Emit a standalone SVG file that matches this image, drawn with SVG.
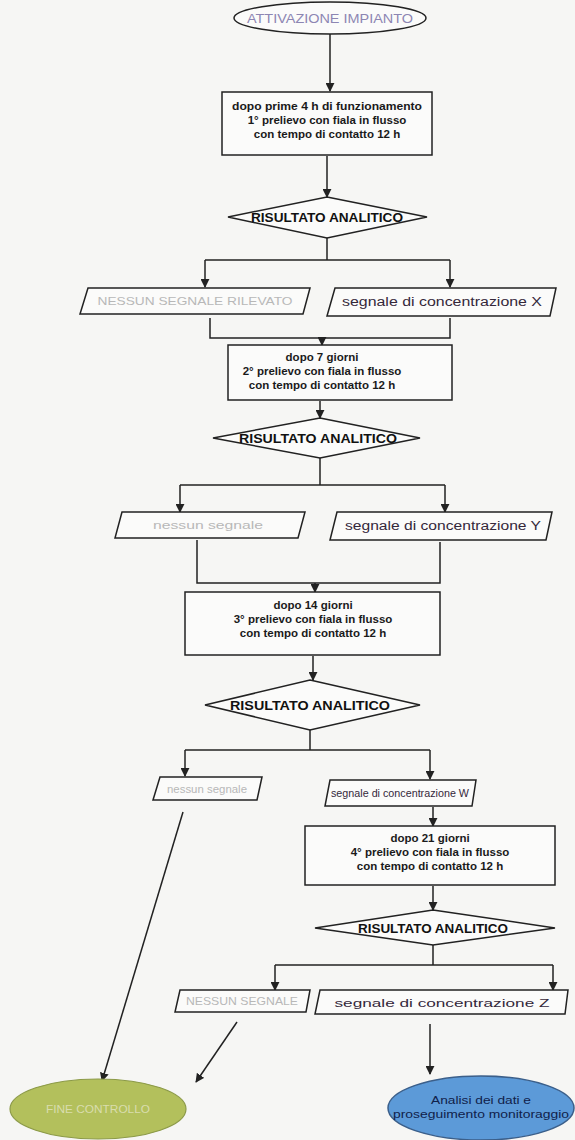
<svg xmlns="http://www.w3.org/2000/svg" width="575" height="1140" viewBox="0 0 575 1140">
<defs>
<marker id="arr" viewBox="0 0 10 10" refX="9" refY="5" markerWidth="6" markerHeight="6" orient="auto-start-reverse">
<path d="M0,0 L10,5 L0,10 z" fill="#222"/>
</marker>
<style>
.bg{fill:#f6f6f4}
.box{fill:#fbfbfa;stroke:#222;stroke-width:1.5}
.dia{fill:#fbfbfa;stroke:#222;stroke-width:1.5}
.par{fill:#fbfbfa;stroke:#222;stroke-width:1.5}
.c{fill:none;stroke:#222;stroke-width:1.5}
.ca{fill:none;stroke:#222;stroke-width:1.5;marker-end:url(#arr)}
.t{font-family:"Liberation Sans",Arial,sans-serif;font-size:11.5px;font-weight:bold;fill:#1a1a1a;text-anchor:middle}
.d{font-family:"Liberation Sans",Arial,sans-serif;font-size:13px;font-weight:bold;fill:#111;text-anchor:middle}
.f{font-family:"Liberation Sans",Arial,sans-serif;font-size:11px;fill:#b8b8b8;text-anchor:middle}
.s{font-family:"Liberation Sans",Arial,sans-serif;font-size:12px;fill:#35283a;text-anchor:middle}
</style>
</defs>
<rect class="bg" x="0" y="0" width="575" height="1140"/>

<g id="connectors">
<line class="ca" x1="330" y1="34" x2="330" y2="91"/>
<line class="ca" x1="327" y1="156" x2="327" y2="197"/>
<polyline class="c" points="327,238 327,260"/>
<polyline class="c" points="205,260 450,260"/>
<line class="ca" x1="205" y1="260" x2="205" y2="287"/>
<line class="ca" x1="450" y1="260" x2="450" y2="287"/>
<polyline class="c" points="210,318 210,338 450,338 450,318"/>
<line class="ca" x1="322" y1="338" x2="322" y2="345"/>
<line class="ca" x1="320" y1="401" x2="320" y2="418"/>
<line class="c" x1="320" y1="458" x2="320" y2="485"/>
<line class="c" x1="180" y1="485" x2="445" y2="485"/>
<line class="ca" x1="180" y1="485" x2="180" y2="512"/>
<line class="ca" x1="445" y1="485" x2="445" y2="512"/>
<polyline class="c" points="197,540 197,583 440,583 440,542"/>
<line class="ca" x1="315" y1="583" x2="315" y2="592"/>
<line class="ca" x1="313" y1="656" x2="313" y2="680"/>
<line class="c" x1="310" y1="730" x2="310" y2="750"/>
<line class="c" x1="185" y1="750" x2="430" y2="750"/>
<line class="ca" x1="185" y1="750" x2="185" y2="776"/>
<line class="ca" x1="430" y1="750" x2="430" y2="779"/>
<line class="ca" x1="183" y1="812" x2="102" y2="1081"/>
<line class="ca" x1="433" y1="807" x2="433" y2="826"/>
<line class="ca" x1="433" y1="886" x2="433" y2="910"/>
<line class="c" x1="433" y1="945" x2="433" y2="965"/>
<line class="c" x1="275" y1="965" x2="553" y2="965"/>
<line class="ca" x1="275" y1="965" x2="275" y2="990"/>
<line class="ca" x1="553" y1="965" x2="553" y2="990"/>
<line class="ca" x1="237" y1="1022" x2="196" y2="1082"/>
<line class="ca" x1="430" y1="1024" x2="430" y2="1074"/>
</g>

<g id="start">
<ellipse cx="330" cy="18" rx="96" ry="16" fill="#fbfbfa" stroke="#222" stroke-width="1.5"/>
<text class="f" x="330" y="23" style="fill:#8d86b3;font-size:12px" textLength="166" lengthAdjust="spacingAndGlyphs">ATTIVAZIONE IMPIANTO</text>
</g>

<g id="box1">
<rect class="box" x="222" y="92" width="210" height="63"/>
<text class="t" x="327" y="110" textLength="190" lengthAdjust="spacingAndGlyphs">dopo prime 4 h di funzionamento</text>
<text class="t" x="327" y="124">1° prelievo con fiala in flusso</text>
<text class="t" x="327" y="138">con tempo di contatto 12 h</text>
</g>

<g id="dec1">
<polygon class="dia" points="327,197 427,217 327,238 228,217"/>
<text class="d" x="327" y="222" textLength="152" lengthAdjust="spacingAndGlyphs">RISULTATO ANALITICO</text>
</g>

<g id="no1">
<polygon class="par" points="88,288 310,288 303,314 80,314"/>
<text class="f" x="195" y="305" textLength="195" lengthAdjust="spacingAndGlyphs">NESSUN SEGNALE RILEVATO</text>
</g>
<g id="yes1">
<polygon class="par" points="335,288 556,288 550,316 327,316"/>
<text class="s" x="442" y="306" textLength="200" lengthAdjust="spacingAndGlyphs">segnale di concentrazione X</text>
</g>

<g id="box2">
<rect class="box" x="228" y="345" width="224" height="55"/>
<text class="t" x="322" y="361">dopo 7 giorni</text>
<text class="t" x="322" y="375">2° prelievo con fiala in flusso</text>
<text class="t" x="322" y="389">con tempo di contatto 12 h</text>
</g>

<g id="dec2">
<polygon class="dia" points="320,418 420,438 320,458 213,438"/>
<text class="d" x="318" y="443" textLength="158" lengthAdjust="spacingAndGlyphs">RISULTATO ANALITICO</text>
</g>

<g id="no2">
<polygon class="par" points="122,512 305,512 298,538 115,538"/>
<text class="f" x="208" y="529" textLength="110" lengthAdjust="spacingAndGlyphs">nessun segnale</text>
</g>
<g id="yes2">
<polygon class="par" points="337,512 552,512 546,540 330,540"/>
<text class="s" x="443" y="530" textLength="196" lengthAdjust="spacingAndGlyphs">segnale di concentrazione Y</text>
</g>

<g id="box3">
<rect class="box" x="185" y="592" width="255" height="63"/>
<text class="t" x="313" y="609">dopo 14 giorni</text>
<text class="t" x="313" y="623">3° prelievo con fiala in flusso</text>
<text class="t" x="313" y="637">con tempo di contatto 12 h</text>
</g>

<g id="dec3">
<polygon class="dia" points="310,680 420,705 310,730 205,705"/>
<text class="d" x="310" y="710" textLength="160" lengthAdjust="spacingAndGlyphs">RISULTATO ANALITICO</text>
</g>

<g id="no3">
<polygon class="par" points="160,777 262,777 257,800 153,800"/>
<text class="f" x="207" y="793" style="font-size:10px" textLength="80" lengthAdjust="spacingAndGlyphs">nessun segnale</text>
</g>
<g id="yes3">
<polygon class="par" points="330,780 476,780 472,806 325,806"/>
<text class="s" x="400" y="797" style="font-size:11px" textLength="138" lengthAdjust="spacingAndGlyphs">segnale di concentrazione W</text>
</g>

<g id="box4">
<rect class="box" x="305" y="826" width="250" height="59"/>
<text class="t" x="430" y="842">dopo 21 giorni</text>
<text class="t" x="430" y="856">4° prelievo con fiala in flusso</text>
<text class="t" x="430" y="870">con tempo di contatto 12 h</text>
</g>

<g id="dec4">
<polygon class="dia" points="433,910 555,928 433,945 315,928"/>
<text class="d" x="433" y="933" style="font-size:12px" textLength="150" lengthAdjust="spacingAndGlyphs">RISULTATO ANALITICO</text>
</g>

<g id="no4">
<polygon class="par" points="180,990 310,990 306,1012 175,1012"/>
<text class="f" x="242" y="1005" style="font-size:10.5px" textLength="112" lengthAdjust="spacingAndGlyphs">NESSUN SEGNALE</text>
</g>
<g id="yes4">
<polygon class="par" points="320,990 568,990 565,1014 315,1014"/>
<text class="s" x="442" y="1007" style="font-size:11px" textLength="215" lengthAdjust="spacingAndGlyphs">segnale di concentrazione Z</text>
</g>

<g id="end">
<ellipse cx="98" cy="1109" rx="88" ry="30" fill="#b3c05c" stroke="#8c9a48" stroke-width="1.2"/>
<text class="f" x="98" y="1113" style="fill:#d9ddae;font-size:11px" textLength="104" lengthAdjust="spacingAndGlyphs">FINE CONTROLLO</text>
</g>

<g id="analysis">
<ellipse cx="481" cy="1108" rx="93" ry="32" fill="#5c9ad8" stroke="#3b5f8a" stroke-width="1.5"/>
<text class="t" x="481" y="1104" style="fill:#10214a;font-weight:normal;font-size:11.5px" textLength="100" lengthAdjust="spacingAndGlyphs">Analisi dei dati e</text>
<text class="t" x="481" y="1118" style="fill:#10214a;font-weight:normal;font-size:11.5px" textLength="176" lengthAdjust="spacingAndGlyphs">proseguimento monitoraggio</text>
</g>
</svg>
